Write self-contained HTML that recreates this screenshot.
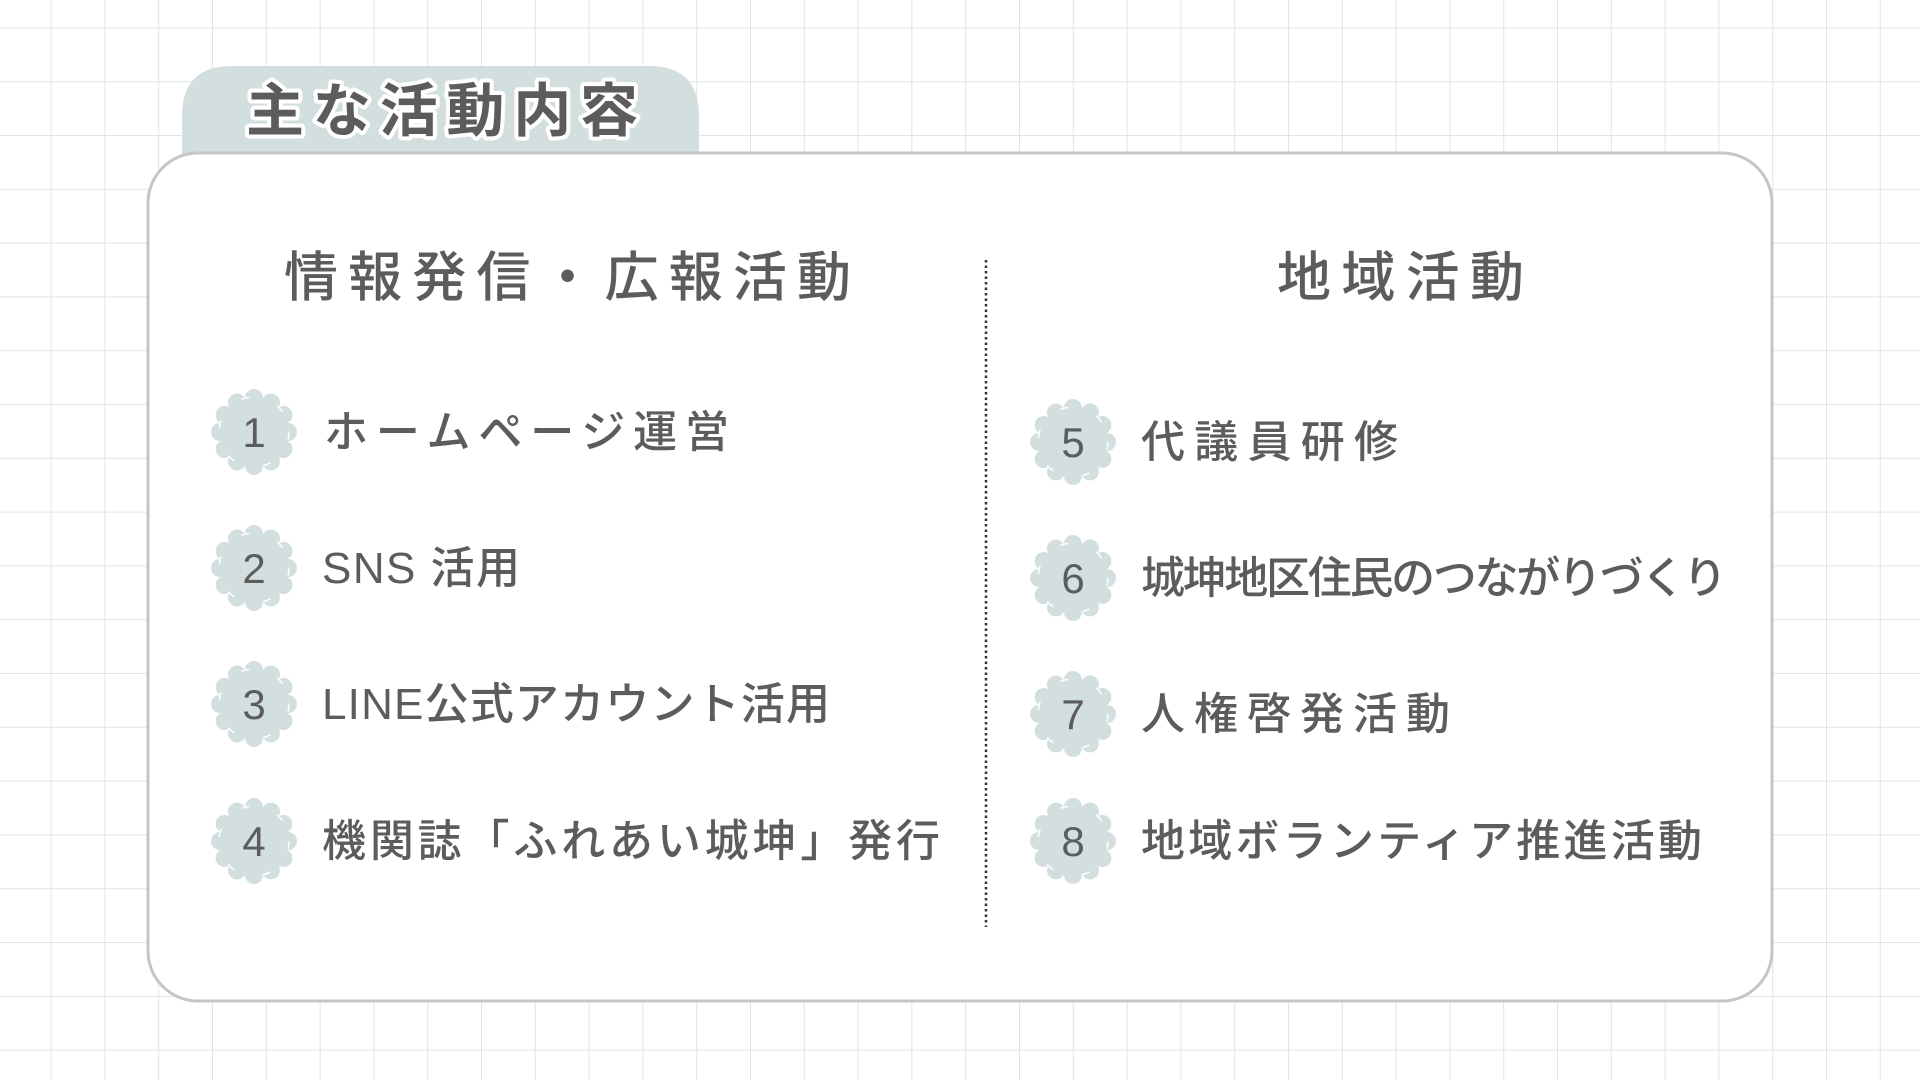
<!DOCTYPE html>
<html><head><meta charset="utf-8"><style>
html,body{margin:0;padding:0;background:#fff;}
svg{display:block;}
text{font-family:"Liberation Sans","Noto Sans CJK JP",sans-serif;fill:#5c5c5c;}
</style></head><body>
<svg width="1920" height="1080" viewBox="0 0 1920 1080" xmlns="http://www.w3.org/2000/svg">
<defs>
<pattern id="g" x="50.6" y="27.4" width="53.8" height="53.8" patternUnits="userSpaceOnUse">
<path d="M0 0V53.8M0 0H53.8" stroke="#dde7e3" stroke-width="2" fill="none"/>
</pattern>
<g id="b">
<circle r="34" fill="#d3dfdf"/>
<g fill="#d3dfdf">
<circle cx="34" cy="0" r="9"/><circle cx="29.4" cy="17" r="9"/><circle cx="17" cy="29.4" r="9"/><circle cx="0" cy="34" r="9"/><circle cx="-17" cy="29.4" r="9"/><circle cx="-29.4" cy="17" r="9"/><circle cx="-34" cy="0" r="9"/><circle cx="-29.4" cy="-17" r="9"/><circle cx="-17" cy="-29.4" r="9"/><circle cx="0" cy="-34" r="9"/><circle cx="17" cy="-29.4" r="9"/><circle cx="29.4" cy="-17" r="9"/>
</g>
<g fill="none" stroke="#fff" stroke-width="1.5" stroke-dasharray="8 30">
<circle r="35"/>
</g>
</g>
</defs>
<rect width="1920" height="1080" fill="url(#g)"/>
<path d="M182 156V116Q182 66 232 66H649Q699 66 699 116V156Z" fill="#d3dfdf"/>
<text x="442" y="131" text-anchor="middle" font-size="58" font-weight="700" textLength="392" lengthAdjust="spacing" stroke="#fff" stroke-width="8" stroke-linejoin="round" style="paint-order:stroke;fill:#5c5c5c">主な活動内容</text>
<rect x="148" y="153" width="1624" height="848" rx="50" fill="#fff" stroke="#c6c6c6" stroke-width="3"/>
<line x1="986" y1="260" x2="986" y2="927" stroke="#333" stroke-width="2.5" stroke-dasharray="2.5 3"/>
<text x="284" y="296" font-size="54" font-weight="500" textLength="567" lengthAdjust="spacing">情報発信・広報活動</text>
<text x="1277" y="296" font-size="54" font-weight="500" textLength="247" lengthAdjust="spacing">地域活動</text>
<g font-size="42" text-anchor="middle">
<use href="#b" x="254" y="432"/><text x="254" y="447">1</text>
<use href="#b" x="254" y="568"/><text x="254" y="583">2</text>
<use href="#b" x="254" y="704"/><text x="254" y="719">3</text>
<use href="#b" x="254" y="841"/><text x="254" y="856">4</text>
<use href="#b" x="1073" y="442"/><text x="1073" y="457">5</text>
<use href="#b" x="1073" y="578"/><text x="1073" y="593">6</text>
<use href="#b" x="1073" y="714"/><text x="1073" y="729">7</text>
<use href="#b" x="1073" y="841"/><text x="1073" y="856">8</text>
</g>
<g font-size="44" font-weight="500">
<text x="324" y="447" textLength="405" lengthAdjust="spacing">ホームページ運営</text>
<text x="322" y="583" textLength="198" lengthAdjust="spacing">SNS 活用</text>
<text x="322" y="719" textLength="508" lengthAdjust="spacing">LINE公式アカウント活用</text>
<text x="322" y="856" textLength="618" lengthAdjust="spacing">機関誌「ふれあい城坤」発行</text>
<text x="1141" y="457" textLength="257" lengthAdjust="spacing">代議員研修</text>
<text x="1141" y="593" textLength="586" lengthAdjust="spacing">城坤地区住民のつながりづくり</text>
<text x="1141" y="729" textLength="309" lengthAdjust="spacing">人権啓発活動</text>
<text x="1141" y="856" textLength="561" lengthAdjust="spacing">地域ボランティア推進活動</text>
</g>
</svg>
</body></html>
